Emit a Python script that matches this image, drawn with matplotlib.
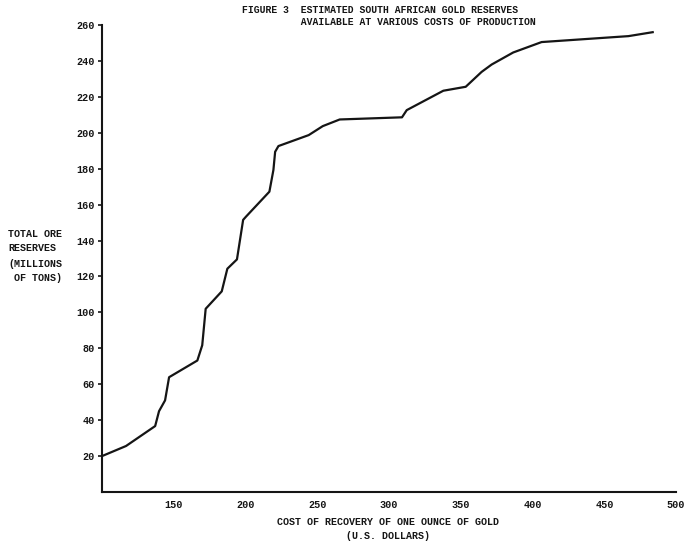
import matplotlib.pyplot as plt

# cost of recovery (US$ per ounce) vs. cumulative ore reserves (million tons)
cost = [100, 116.7, 137, 139.7, 143.9, 146.7, 166.4, 169.8, 172.2, 183.4, 187.3,
        194.0, 198.3, 200.3, 216.6, 219.4, 220.6, 222.9, 244.0, 253.8, 265.6,
        309.0, 312.3, 337.8, 353.4, 364.5, 371.5, 386.5, 406.3, 466.8, 483.7]
reserves = [20, 25.6, 36.7, 45, 51, 63.9, 73.2, 81.7, 102, 111.7, 124.3,
            129.5, 151.5, 153.3, 167.2, 179.3, 189.4, 192.6, 198.7, 203.7, 207.4,
            208.6, 212.6, 223.4, 225.6, 233.9, 238, 244.7, 250.5, 253.8, 256]
x_ticks = [150, 200, 250, 300, 350, 400, 450, 500]
y_ticks = [20, 40, 60, 80, 100, 120, 140, 160, 180, 200, 220, 240, 260]

mono = 'Liberation Mono'
ink = '#151515'

fig = plt.figure(figsize=(6.85, 5.41), dpi=100)
ax = fig.add_axes([0.149, 0.0906, 0.838, 0.8632])

ax.plot(cost, reserves, color=ink, lw=1.6, solid_joinstyle='round')

ax.set_xlim(100, 500)
ax.set_ylim(0, 260)
ax.set_xticks(x_ticks)
ax.set_yticks(y_ticks)
ax.set_xticklabels([str(t) for t in x_ticks], fontfamily=mono, fontsize=7.3,
                   fontweight='bold', color=ink)
ax.set_yticklabels([str(t) for t in y_ticks], fontfamily=mono, fontsize=7.3,
                   fontweight='bold', color=ink)
ax.tick_params(axis='y', length=3, width=1.2, pad=2, color=ink)
ax.tick_params(axis='x', length=0, pad=6)

for side in ['top', 'right']:
    ax.spines[side].set_visible(False)
for side in ['left', 'bottom']:
    ax.spines[side].set_linewidth(1.5)
    ax.spines[side].set_color(ink)

# title and axis labels, typewriter style
fig.text(242 / 685, 1 - 16 / 541,
         'FIGURE 3  ESTIMATED SOUTH AFRICAN GOLD RESERVES\n'
         '          AVAILABLE AT VARIOUS COSTS OF PRODUCTION',
         fontfamily=mono, fontsize=7.0, fontweight='bold', color=ink,
         va='center', ha='left', linespacing=1.15)

fig.text(388 / 685, 1 - 529 / 541,
         'COST OF RECOVERY OF ONE OUNCE OF GOLD\n(U.S. DOLLARS)',
         fontfamily=mono, fontsize=7.2, fontweight='bold', color=ink,
         ha='center', va='center', linespacing=1.5)

fig.text(8 / 685, 1 - 241 / 541, 'TOTAL ORE\nRESERVES',
         fontfamily=mono, fontsize=7.2, fontweight='bold', color=ink,
         ha='left', va='center', linespacing=1.4)
fig.text(8 / 685, 1 - 271 / 541, '(MILLIONS\n OF TONS)',
         fontfamily=mono, fontsize=7.2, fontweight='bold', color=ink,
         ha='left', va='center', linespacing=1.4)

fig.savefig('out.png', dpi=100)
